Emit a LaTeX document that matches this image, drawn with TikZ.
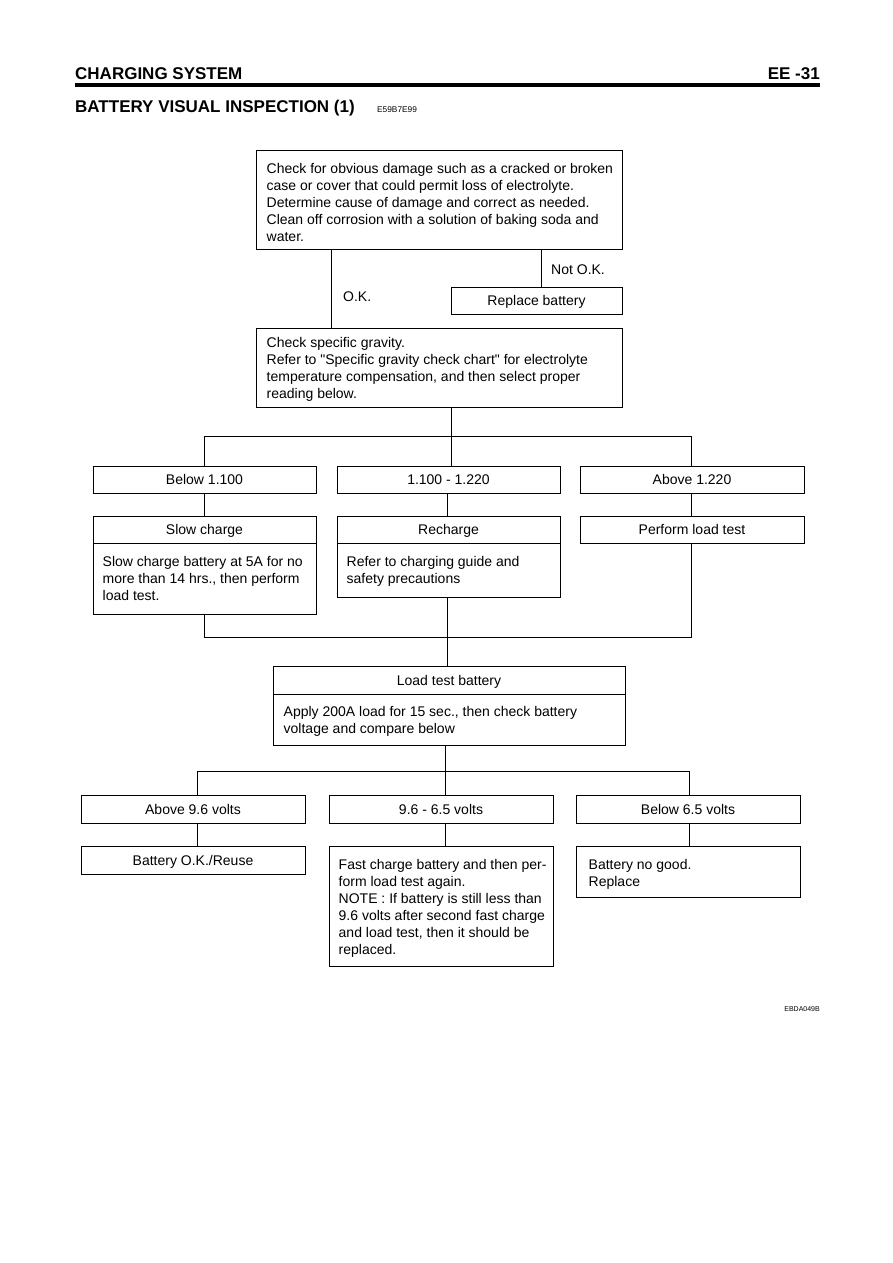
\documentclass[tikz,border=0pt]{standalone}
\usepackage{fontspec}
\setmainfont{Liberation Sans}
\newcommand{\bodyfont}{\fontsize{14}{17}\selectfont}
\begin{document}
\begin{tikzpicture}[x=1pt,y=-1pt,
  box/.style={draw, line width=1pt, inner sep=0pt, font=\bodyfont},
  sbox/.style={box, text height=10pt, text depth=0pt},
  txt/.style={font=\bodyfont, inner sep=0pt, align=left, anchor=west},
  conn/.style={line width=1pt},
  lbl/.style={font=\bodyfont, inner sep=0pt, text height=10pt, text depth=0pt}]
\useasboundingbox (0,0) rectangle (893,1263);
% header
\node[anchor=base west, inner sep=0pt, font=\fontsize{17}{20}\selectfont\bfseries] (hdr) at (75,79) {CHARGING SYSTEM};
\node[anchor=base east, inner sep=0pt, font=\fontsize{17}{20}\selectfont\bfseries] (pg) at (820,79) {EE -31};
\coordinate (rl) at (75,85);
\coordinate (rr) at (820,85);
\draw[line width=3.5pt] (rl) -- (rr);
\node[anchor=base west, inner sep=0pt, font=\fontsize{17}{20}\selectfont\bfseries] (ttl) at (75,112) {BATTERY VISUAL INSPECTION (1)};
\node[anchor=base west, inner sep=0pt, font=\fontsize{8.3}{10}\selectfont] (code) at (377,112) {E59B7E99};
\node[anchor=base east, inner sep=0pt, font=\fontsize{7}{9}\selectfont] (fig) at (820,1011) {EBDA049B};

% boxes
\node[box, minimum width=366pt, minimum height=99pt] (b1) at (439,199.5) {};
\node[txt] (b1t) at ([xshift=11pt,yshift=-3pt]b1.west)
 {Check for obvious damage such as a cracked or broken\\case or cover that could permit loss of electrolyte.\\Determine cause of damage and correct as needed.\\Clean off corrosion with a solution of baking soda and\\water.};
\node[sbox, minimum width=171pt, minimum height=27pt] (rep) at (536.5,300.5) {Replace battery};
\node[box, minimum width=366pt, minimum height=79pt] (b2) at (439,367.5) {};
\node[txt] (b2t) at ([xshift=11pt,yshift=-2pt]b2.west)
 {Check specific gravity.\\Refer to \textquotedbl Specific gravity check chart\textquotedbl{} for electrolyte\\temperature compensation, and then select proper\\reading below.};

\node[sbox, minimum width=223pt, minimum height=27pt] (r1) at (204.5,479.5) {Below 1.100};
\node[sbox, minimum width=223pt, minimum height=27pt] (r2) at (448.5,479.5) {1.100 - 1.220};
\node[sbox, minimum width=224pt, minimum height=27pt] (r3) at (692,479.5) {Above 1.220};

\node[sbox, minimum width=223pt, minimum height=27pt] (s1) at (204.5,529.5) {Slow charge};
\node[box, minimum width=223pt, minimum height=71pt] (s1b) at (204.5,578.5) {};
\node[txt] (s1t) at ([xshift=10pt]s1b.west)
 {Slow charge battery at 5A for no\\more than 14 hrs., then perform\\load test.};
\node[sbox, minimum width=223pt, minimum height=27pt] (s2) at (448.5,529.5) {Recharge};
\node[box, minimum width=223pt, minimum height=54pt] (s2b) at (448.5,570) {};
\node[txt] (s2t) at ([xshift=10pt,yshift=-1pt]s2b.west)
 {Refer to charging guide and\\safety precautions};
\node[sbox, minimum width=224pt, minimum height=27pt] (s3) at (692,529.5) {Perform load test};

\node[sbox, minimum width=352pt, minimum height=28pt] (lt) at (449,680) {Load test battery};
\node[box, minimum width=352pt, minimum height=51pt] (ltb) at (449,719.5) {};
\node[txt] (ltt) at ([xshift=11pt,yshift=-2pt]ltb.west)
 {Apply 200A load for 15 sec., then check battery\\voltage and compare below};

\node[sbox, minimum width=224pt, minimum height=28pt] (v1) at (193,809) {Above 9.6 volts};
\node[sbox, minimum width=224pt, minimum height=28pt] (v2) at (441,809) {9.6 - 6.5 volts};
\node[sbox, minimum width=224pt, minimum height=28pt] (v3) at (688,809) {Below 6.5 volts};

\node[sbox, minimum width=224pt, minimum height=28pt] (ok) at (193,860) {Battery O.K./Reuse};
\node[box, minimum width=224pt, minimum height=120pt] (fc) at (441,906) {};
\node[txt] (fct) at ([xshift=10pt,yshift=-2pt]fc.west)
 {Fast charge battery and then per-\\form load test again.\\NOTE : If battery is still less than\\9.6 volts after second fast charge\\and load test, then it should be\\replaced.};
\node[box, minimum width=224pt, minimum height=51pt] (ng) at (688,871.5) {};
\node[txt] (ngt) at ([xshift=13pt,yshift=-3pt]ng.west)
 {Battery no good.\\Replace};

% labels
\node[lbl, anchor=west] (nok) at (551,269) {Not O.K.};
\node[lbl, anchor=west] (okl) at (343,296) {O.K.};

% connector coordinates
\coordinate (xok) at (331,0);
\coordinate (xnok) at (541,0);
\coordinate (j1) at (451,436);
\coordinate (j1l) at (204,436);
\coordinate (j1r) at (691,436);
\coordinate (j2) at (447,637);
\coordinate (j2l) at (204,637);
\coordinate (j2r) at (691,637);
\coordinate (j3) at (445,771);
\coordinate (j3l) at (197,771);
\coordinate (j3r) at (689,771);

% connectors
\draw[conn] (b1.south -| xok) -- (b2.north -| xok);
\draw[conn] (b1.south -| xnok) -- (rep.north -| xnok);
\draw[conn] (b2.south -| j1) -- (j1);
\draw[conn] (j1l) -- (j1r);
\draw[conn] (j1l) -- (r1.north -| j1l);
\draw[conn] (j1) -- (r2.north -| j1);
\draw[conn] (j1r) -- (r3.north -| j1r);
\draw[conn] (r1.south -| j1l) -- (s1.north -| j1l);
\draw[conn] (r2.south -| j2) -- (s2.north -| j2);
\draw[conn] (r3.south -| j1r) -- (s3.north -| j1r);
\draw[conn] (s1b.south -| j2l) -- (j2l) -- (j2r) -- (s3.south -| j2r);
\draw[conn] (s2b.south -| j2) -- (lt.north -| j2);
\draw[conn] (ltb.south -| j3) -- (j3);
\draw[conn] (j3l) -- (j3r);
\draw[conn] (j3l) -- (v1.north -| j3l);
\draw[conn] (j3) -- (v2.north -| j3);
\draw[conn] (j3r) -- (v3.north -| j3r);
\draw[conn] (v1.south -| j3l) -- (ok.north -| j3l);
\draw[conn] (v2.south -| j3) -- (fc.north -| j3);
\draw[conn] (v3.south -| j3r) -- (ng.north -| j3r);
\end{tikzpicture}
\end{document}
